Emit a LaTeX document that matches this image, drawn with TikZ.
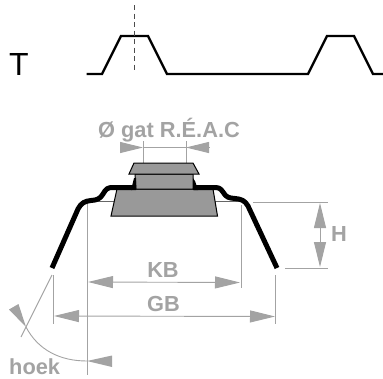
\documentclass[tikz,border=0pt]{standalone}
\usepackage{fontspec}
\setmainfont{Liberation Sans}
\usetikzlibrary{arrows.meta}
\definecolor{dimgray}{HTML}{A3A3A3}
\definecolor{blockgray}{HTML}{999999}
\tikzset{
  x=1pt,y=-1pt,
  profile/.style={line width=2.3pt,black,line join=miter},
  section/.style={line width=5pt,black,line join=round},
  dimline/.style={line width=0.9pt,dimgray},
  dimarrow/.style={line width=0.9pt,dimgray,-{Triangle[length=25pt,width=12pt,fill=dimgray]}},
  block/.style={draw=black,line width=1pt,fill=blockgray},
  leader/.style={line width=1pt,draw=black!60},
  dimtext/.style={text=dimgray,font=\bfseries\fontsize{21.8}{22}\selectfont,inner sep=0pt},
}
\begin{document}
\begin{tikzpicture}
\useasboundingbox (0,0) rectangle (383,378);
% top profile
\draw[profile] (86.5,74) -- (102,74) -- (121,36) -- (148,36) -- (167,74) -- (308,74) -- (327,36) -- (354,36) -- (373,74) -- (383,74);
\draw[line width=0.9pt,black!70,dash pattern=on 5pt off 3.5pt] (134,5) -- (134,72);
\node[inner sep=0pt,anchor=center,font=\fontsize{32}{32}\selectfont] (t) at (19,64.5) {T};
% dimension lines under the section
\draw[dimline] (143,141) -- (143,163);
\draw[dimline] (186,141) -- (186,163);
\draw[dimline] (143,147) -- (186,147);
\coordinate (gatL) at (120,147.5);
\coordinate (gatLt) at (143,147.5);
\coordinate (gatR) at (209,147.5);
\coordinate (gatRt) at (186,147.5);
\draw[dimarrow,-{Triangle[length=23pt,width=11pt,fill=dimgray]}] (gatL) -- (gatLt);
\draw[dimarrow,-{Triangle[length=23pt,width=11pt,fill=dimgray]}] (gatR) -- (gatRt);
\draw[dimline] (87,202) -- (87,375);
\draw[dimline] (241,205) -- (241,288);
\draw[dimline] (53,275) -- (53,324);
\draw[dimline] (275,275) -- (275,324);
\draw[dimline] (253,202) -- (328,202);
\draw[dimline] (285,268) -- (328,268);
\coordinate (hT) at (320,203);
\coordinate (hB) at (320,267);
\draw[dimarrow,{Triangle[length=25pt,width=12pt,fill=dimgray]}-{Triangle[length=25pt,width=12pt,fill=dimgray]}] (hT) -- (hB);
\coordinate (kbL) at (88,282);
\coordinate (kbR) at (240,282.5);
\draw[dimarrow,{Triangle[length=25pt,width=12pt,fill=dimgray]}-{Triangle[length=25pt,width=12pt,fill=dimgray]}] (kbL) -- (kbR);
\coordinate (gbL) at (54,316);
\coordinate (gbR) at (275,316.5);
\draw[dimarrow,{Triangle[length=25pt,width=12pt,fill=dimgray]}-{Triangle[length=25pt,width=12pt,fill=dimgray]}] (gbL) -- (gbR);
% angle
\draw[dimline] (52,275) -- (21,337);
\draw[dimline] (26,327) .. controls (38,350) and (60,361) .. (87,361);
\fill[dimgray] (26,327) -- (9,309.5) -- (18.5,304) -- cycle;
\fill[dimgray] (87,361) -- (112,355.5) -- (112,367) -- cycle;
% blocks
\draw[leader] (87,201.5) -- (116,201.5);
\draw[leader] (214,201.5) -- (240,201.5);
\draw[block] (117,189) -- (213,189) -- (217.5,216) -- (111,216) -- cycle;
\draw[block] (135,174) -- (193,174) -- (193,189) -- (136,189) -- cycle;
\draw[block] (134,163) -- (193,163) -- (199,174) -- (129,174) -- cycle;
% section
\draw[section] (52,268) -- (78,209) .. controls (81,203) and (85,201) .. (91,200.5) .. controls (97,200) and (100,199) .. (103,194) .. controls (106,188.5) and (108,187.5) .. (113,187.5) -- (132,187.5);
\fill[black] (131,190) -- (134,178) -- (136,178) -- (136,190) -- cycle;
\draw[section] (277,268) -- (248,206) .. controls (245,200.5) and (241,199) .. (235,198.5) .. controls (229,198) and (226,197.5) .. (223,192) .. controls (220,187.5) and (218,187.5) .. (213,187.5) -- (194,187.5);
\fill[black] (193,190) -- (193,178) -- (195,181) -- (198,190) -- cycle;
% labels
\node[dimtext] (gat) at (169,130) {Ø gat R.É.A.C};
\node[dimtext] (kb) at (163,270) {KB};
\node[dimtext] (gb) at (163.5,304) {GB};
\node[dimtext] (h) at (339,234) {H};
\node[dimtext,anchor=base west] (hoek) at (9,374.5) {hoek};
\end{tikzpicture}
\end{document}
